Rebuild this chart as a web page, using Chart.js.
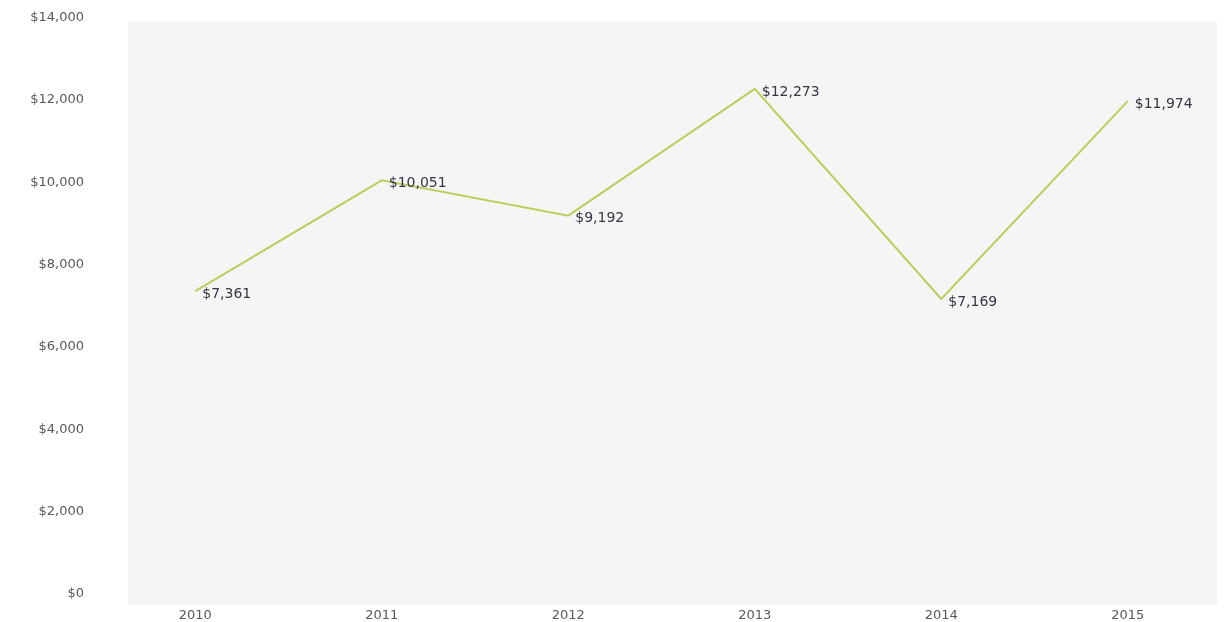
<!DOCTYPE html>
<html>
<head>
<meta charset="utf-8">
<script src="https://cdn.jsdelivr.net/npm/chart.js@4/dist/chart.umd.min.js"></script>
<style>
  html, body { margin: 0; padding: 0; background: #ffffff; }
  #wrap { width: 1227px; height: 622px; position: relative; }
</style>
</head>
<body>
<div id="wrap"><canvas id="chart"></canvas></div>
<script>
// years and yearly values
var years = ['2010', '2011', '2012', '2013', '2014', '2015'];
var amounts = [7361, 10051, 9192, 12273, 7169, 11974];
var yTicks = [0, 2000, 4000, 6000, 8000, 10000, 12000, 14000];

function money(v) {
    return '$' + v.toLocaleString('en-US');
}

// light grey plot background
var plotBg = {
    id: 'plotBg',
    beforeDraw: function (chart) {
        var a = chart.chartArea, ctx = chart.ctx;
        ctx.save();
        ctx.fillStyle = '#f5f5f5';
        ctx.fillRect(a.left + 26, a.top + 3, a.right - a.left - 30, a.bottom - a.top + 8);
        ctx.restore();
    }
};

// value labels to the right of each point
var valueLabels = {
    id: 'valueLabels',
    afterDatasetsDraw: function (chart) {
        var ctx = chart.ctx;
        var meta = chart.getDatasetMeta(0);
        ctx.save();
        ctx.font = '14px "DejaVu Sans"';
        ctx.fillStyle = '#363646';
        ctx.textAlign = 'left';
        ctx.textBaseline = 'middle';
        meta.data.forEach(function (pt, i) {
            ctx.fillText(money(amounts[i]), pt.x + 7, pt.y + 3);
        });
        ctx.restore();
    }
};

new Chart(document.getElementById('chart'), {
    type: 'line',
    data: {
        labels: years,
        datasets: [{
            data: amounts,
            borderColor: '#bfcc5c',
            borderWidth: 2,
            pointRadius: 0,
            tension: 0,
            fill: false
        }]
    },
    options: {
        responsive: true,
        maintainAspectRatio: false,
        animation: false,
        layout: { padding: { top: 6, right: 6, bottom: 0, left: 0 } },
        plugins: {
            legend: { display: false },
            tooltip: { enabled: false }
        },
        scales: {
            x: {
                offset: true,
                grid: { display: false },
                border: { display: false },
                ticks: {
                    color: '#595959',
                    font: { family: 'DejaVu Sans', size: 13 },
                    padding: 6
                },
                afterFit: function (s) { s.height = 28; }
            },
            y: {
                min: 0,
                max: 14000,
                grid: { display: false },
                border: { display: false },
                afterBuildTicks: function (s) {
                    s.ticks = yTicks.map(function (v) { return { value: v }; });
                },
                ticks: {
                    color: '#595959',
                    font: { family: 'DejaVu Sans', size: 13 },
                    padding: 10,
                    callback: function (v) { return money(v); }
                },
                afterFit: function (s) { s.width = 102; }
            }
        }
    },
    plugins: [plotBg, valueLabels]
});
</script>
</body>
</html>
